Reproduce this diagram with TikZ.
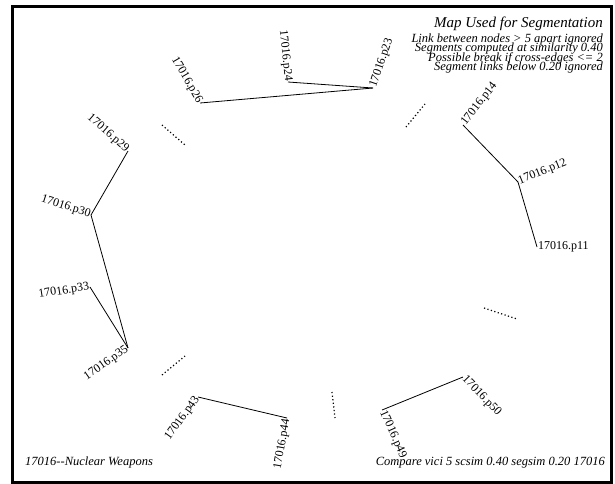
\documentclass[tikz,border=0pt]{standalone}
\usepackage{fontspec}
\setmainfont{Liberation Serif}
\usepackage{tikz}
\usetikzlibrary{positioning}
\tikzset{
  parR/.style={anchor=west, inner sep=0.8pt, font=\fontsize{12}{12}\selectfont},
  parL/.style={anchor=east, inner sep=0.8pt, font=\fontsize{12}{12}\selectfont},
  link/.style={line width=0.8pt},
  gap/.style={line width=1.2pt, dash pattern=on 1.2pt off 2.4pt},
  note/.style={anchor=base east, inner sep=0pt, font=\fontsize{12.5}{12.5}\selectfont\itshape},
  heading/.style={anchor=base east, inner sep=0pt, font=\fontsize{15}{15}\selectfont\itshape},
}

\begin{document}
\begin{tikzpicture}[x=1pt, y=-1pt]
  \useasboundingbox (0,0) rectangle (615,483);
  \draw[line width=3pt] (12.5,6) rectangle (611.5,482);

  \node[heading] (title) at (603,27) {Map Used for Segmentation};
  \node[note] (infoA) at (603,42) {Link between nodes > 5 apart ignored};
  \node[note] (infoB) at (603,51.5) {Segments computed at similarity 0.40};
  \node[note] (infoC) at (603,61) {Possible break if cross-edges <= 2};
  \node[note] (infoD) at (603,70.5) {Segment links below 0.20 ignored};

  \node[note, anchor=base west] (topic) at (25,465) {17016-{}-Nuclear Weapons};
  \node[note] (params) at (605,465) {Compare vici 5 scsim 0.40 segsim 0.20 17016};

  \node[parR, rotate=0]   (p11) at (537,247) {17016.p11};
  \node[parR, rotate=22]  (p12) at (518,182) {17016.p12};
  \node[parR, rotate=52]  (p14) at (463,125) {17016.p14};
  \node[parR, rotate=71]  (p23) at (373,88)  {17016.p23};
  \node[parL, rotate=-84] (p24) at (288,82)  {17016.p24};
  \node[parL, rotate=-60] (p26) at (200,103) {17016.p26};
  \node[parL, rotate=-41] (p29) at (128,151) {17016.p29};
  \node[parL, rotate=-18] (p30) at (91,215)  {17016.p30};
  \node[parL, rotate=9]   (p33) at (90,287)  {17016.p33};
  \node[parL, rotate=35]  (p35) at (128,348) {17016.p35};
  \node[parL, rotate=54]  (p43) at (198,397) {17016.p43};
  \node[parL, rotate=80]  (p44) at (287,418) {17016.p44};
  \node[parR, rotate=-66] (p49) at (382,410) {17016.p49};
  \node[parR, rotate=-46] (p50) at (463,377) {17016.p50};

  \draw[link] (p23.west) -- (p24.east);
  \draw[link] (p23.west) -- (p26.east);
  \draw[link] (p14.west) -- (p12.west);
  \draw[link] (p12.west) -- (p11.west);
  \draw[link] (p29.east) -- (p30.east);
  \draw[link] (p30.east) -- (p35.east);
  \draw[link] (p33.east) -- (p35.east);
  \draw[link] (p43.east) -- (p44.east);
  \draw[link] (p49.west) -- (p50.west);

  \coordinate (gapA1) at (162,125); \coordinate (gapA2) at (185,145);
  \coordinate (gapB1) at (406,127); \coordinate (gapB2) at (425,104);
  \coordinate (gapC1) at (484,308); \coordinate (gapC2) at (517,319);
  \coordinate (gapD1) at (332,392); \coordinate (gapD2) at (335,418);
  \coordinate (gapE1) at (162,375); \coordinate (gapE2) at (185,356);
  \draw[gap] (gapA1) -- (gapA2);
  \draw[gap] (gapB1) -- (gapB2);
  \draw[gap] (gapC1) -- (gapC2);
  \draw[gap] (gapD1) -- (gapD2);
  \draw[gap] (gapE1) -- (gapE2);
\end{tikzpicture}
\end{document}
